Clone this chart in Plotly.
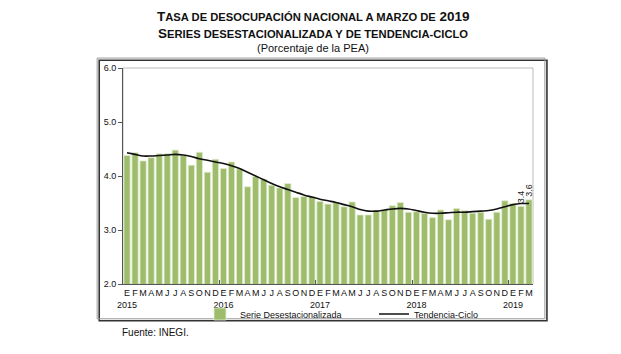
import plotly.graph_objects as go

months = ["E", "F", "M", "A", "M", "J", "J", "A", "S", "O", "N", "D"]
years = ["2015", "2016", "2017", "2018", "2019"]

serie = [4.38, 4.43, 4.28, 4.34, 4.41, 4.41, 4.48, 4.38, 4.20, 4.44, 4.07, 4.31,
         4.14, 4.26, 4.13, 3.80, 3.99, 3.94, 3.83, 3.78, 3.86, 3.60, 3.62, 3.62,
         3.53, 3.48, 3.51, 3.43, 3.52, 3.28, 3.28, 3.36, 3.37, 3.45, 3.51, 3.33,
         3.34, 3.31, 3.23, 3.37, 3.19, 3.40, 3.36, 3.31, 3.33, 3.20, 3.33, 3.54,
         3.49, 3.44, 3.56]

tendencia = [4.43, 4.40, 4.37, 4.37, 4.38, 4.39, 4.40, 4.39, 4.36, 4.32, 4.29, 4.26,
             4.23, 4.19, 4.14, 4.07, 4.00, 3.93, 3.86, 3.80, 3.75, 3.70, 3.65, 3.61,
             3.57, 3.54, 3.51, 3.47, 3.43, 3.38, 3.35, 3.35, 3.37, 3.39, 3.40, 3.39,
             3.36, 3.33, 3.31, 3.31, 3.32, 3.33, 3.33, 3.34, 3.35, 3.36, 3.39, 3.43,
             3.47, 3.49, 3.49]

n = len(serie)
x = list(range(n))
ticktext = []
for i in x:
    m = months[i % 12]
    if i % 12 == 0:
        m = m + "<br>" + years[i // 12]
    ticktext.append(m)

labels = ["" for _ in range(n)]
labels[-2] = f"{serie[-2]:.1f}"
labels[-1] = f"{serie[-1]:.1f}"

FONT = "Liberation Sans, Arial, sans-serif"

fig = go.Figure()
fig.add_trace(go.Bar(
    x=x, y=serie, name="Serie Desestacionalizada", legend="legend",
    marker=dict(color="#9EBD6C", line=dict(color="#E4ECD4", width=0.8)),
    text=labels, textposition="outside", textangle=-90, constraintext="none",
    textfont=dict(size=9, color="#222", family=FONT), cliponaxis=False,
))
fig.add_trace(go.Scatter(
    x=x, y=tendencia, name="Tendencia-Ciclo", mode="lines", legend="legend2",
    line=dict(color="#111", width=1.6, shape="spline"),
))

legend_common = dict(orientation="h", xanchor="left", yanchor="middle",
                     y=(284 - 314) / 216, font=dict(size=9, family=FONT),
                     itemwidth=30, bgcolor="rgba(0,0,0,0)", borderwidth=0)

fig.update_layout(
    width=621, height=354,
    margin=dict(l=123, r=88, t=68, b=70, autoexpand=False),
    paper_bgcolor="white", plot_bgcolor="white",
    font=dict(family=FONT, color="#111", size=9),
    bargap=0.22,
    showlegend=True,
    legend=dict(x=(200 - 123) / 410, **legend_common),
    legend2=dict(x=(374 - 123) / 410, **legend_common),
    xaxis=dict(
        range=[-0.5, n - 0.5], tickmode="array", tickvals=x, ticktext=ticktext,
        tickangle=0, ticks="", showline=True, linecolor="#555", linewidth=1,
        mirror=False, showgrid=False, zeroline=False,
        tickfont=dict(size=9, family=FONT, color="#111"),
        minor=dict(tickmode="array", tickvals=[11.5, 23.5, 35.5, 47.5],
                   ticks="inside", ticklen=4, tickcolor="#555", showgrid=False),
    ),
    yaxis=dict(
        range=[2.0, 6.0], tickmode="array", tickvals=[2, 3, 4, 5, 6],
        ticktext=["2.0", "3.0", "4.0", "5.0", "6.0"],
        ticks="outside", ticklen=4, tickcolor="#555", showline=True,
        linecolor="#555", linewidth=1, showgrid=False, zeroline=False,
        tickfont=dict(size=9, family=FONT, color="#111"),
    ),
)

# plot box (top/right light lines)
fig.add_shape(type="rect", xref="paper", yref="paper", x0=0, x1=1, y0=0, y1=1,
              line=dict(color="#BBBBBB", width=1), layer="below")
# outer frame with shadow
fig.add_shape(type="rect", xref="paper", yref="paper",
              x0=-0.058, x1=1.034, y0=-0.170, y1=1.036,
              line=dict(color="#333", width=1.6))
fig.add_shape(type="rect", xref="paper", yref="paper",
              x0=-0.063, x1=1.029, y0=-0.161, y1=1.046,
              line=dict(color="#999", width=1))

title_lines = [
    ("<b>T<span style='font-size:11.2px'>ASA DE DESOCUPACIÓN NACIONAL A MARZO DE</span> 2019</b>", 17, 13.5),
    ("<b>S<span style='font-size:11.2px'>ERIES DESESTACIONALIZADA Y DE TENDENCIA-CICLO</span></b>", 33, 13.5),
    ("(Porcentaje de la PEA)", 48, 11),
]
for txt, ypx, fs in title_lines:
    fig.add_annotation(text=txt, xref="paper", yref="paper",
                       x=(313 - 123) / 410, y=(284 - ypx) / 216,
                       xanchor="center", yanchor="middle", showarrow=False,
                       font=dict(size=fs, family=FONT, color="#111"))

fig.add_annotation(text="Fuente: INEGI.", xref="paper", yref="paper",
                   x=(120 - 123) / 410, y=(284 - 332) / 216,
                   xanchor="left", yanchor="middle", showarrow=False,
                   font=dict(size=10, family=FONT, color="#111"))

fig.write_html("out.html")
